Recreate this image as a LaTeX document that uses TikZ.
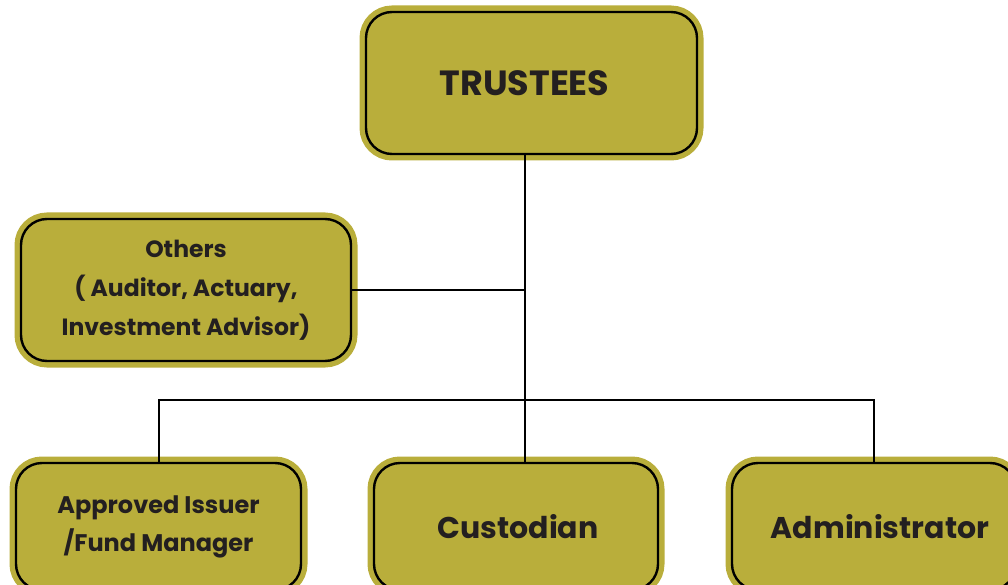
\documentclass[tikz,border=0pt]{standalone}
\usepackage{fontspec}
\setmainfont{Poppins}
\definecolor{boxolive}{RGB}{185,174,59}
\definecolor{inkdark}{RGB}{35,31,32}
\tikzset{
  orgbox/.style={rectangle, rounded corners=26pt, fill=boxolive, draw=black, line width=2.4pt,
    preaction={draw=boxolive, line width=13pt}, text=inkdark, font=\bfseries, align=center, inner sep=0pt},
}
\begin{document}
\begin{tikzpicture}
[x=1pt, y=-1pt]
\useasboundingbox (0,0) rectangle (1008,585);
\node [orgbox, minimum width=331pt, minimum height=142pt, font=\bfseries\fontsize{35}{40}\selectfont] (trustees) at (531.5,83) {TRUSTEES\kern14pt};
\node [orgbox, minimum width=330pt, minimum height=142pt, font=\bfseries\fontsize{23.5}{39}\selectfont] (others) at (186,290) {Others\\( Auditor, Actuary,\\Investment Advisor)};
\node [orgbox, minimum width=285pt, minimum height=127pt, font=\bfseries\fontsize{24}{38}\selectfont] (issuer) at (158.5,526.5) {Approved Issuer\\/Fund Manager};
\node [orgbox, minimum width=284pt, minimum height=127pt, font=\bfseries\fontsize{30}{34}\selectfont] (custodian) at (516,526.5) {Custodian\kern-4pt};
\node [orgbox, minimum width=284pt, minimum height=127pt, font=\bfseries\fontsize{30}{34}\selectfont] (admin) at (874,526.5) {\kern12pt Administrator};
\coordinate (hub) at (525,290);
\coordinate (bar) at (525,400);
\draw [line width=2pt] (trustees.south -| hub) -- (custodian.north -| hub);
\draw [line width=2pt] (others.east) -- (hub);
\draw [line width=2pt] (issuer.north) |- (bar) -| (admin.north);
\end{tikzpicture}
\end{document}
